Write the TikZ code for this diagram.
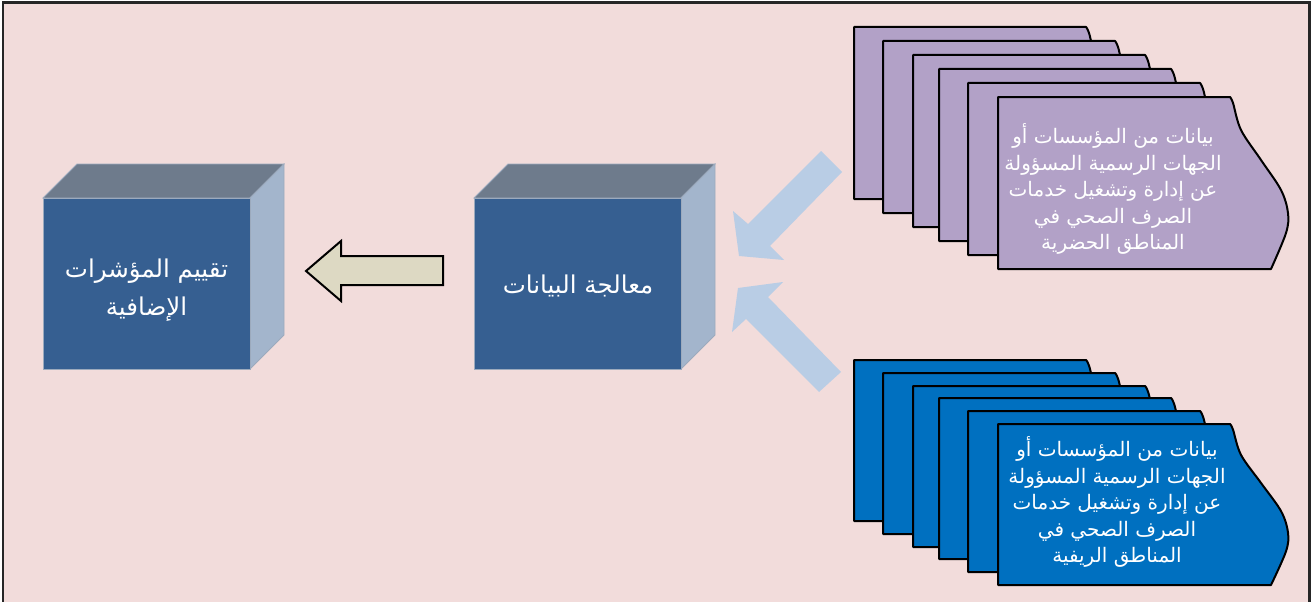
\documentclass[tikz,border=0pt]{standalone}
\usepackage{fontspec}
\newfontfamily\arabicfont[Script=Arabic]{DejaVu Sans}
\TeXXeTstate=1
\definecolor{bg}{HTML}{F2DCDB}
\definecolor{lilac}{HTML}{B2A1C7}
\definecolor{docblue}{HTML}{0070C0}
\definecolor{cubefront}{HTML}{365F91}
\definecolor{cubetop}{HTML}{6E7B8C}
\definecolor{cubeside}{HTML}{A3B5CC}
\definecolor{beige}{HTML}{DDD9C3}
\definecolor{lightarrow}{HTML}{B9CDE5}
\tikzset{
  pagebox/.style={draw=black, line width=2pt, line join=round},
  cubeface/.style={draw=cubeside!80!gray, line width=0.8pt},
  cubetext/.style={text=white, align=center, font=\arabicfont\fontsize{24.5}{38}\selectfont},
  doctext/.style={text=white, align=center, font=\arabicfont\fontsize{20}{26.5}\selectfont},
  hollowarrow/.style={draw=black, line width=2pt, fill=beige, line join=miter},
  flatarrow/.style={fill=lightarrow},
}
\begin{document}
\begin{tikzpicture}[x=1pt,y=-1pt]
\useasboundingbox (0,0) rectangle (1312,602);
\clip (0,0) rectangle (1312,602);
\fill[white] (0,0) rectangle (1312,602);
\draw[fill=bg, line width=2.2pt, draw=black!85] (3,2.5) rectangle (1309.5,620);

% cubes
\foreach \cx in {43,474}{
  \fill[cubetop, cubeface] (\cx,198) -- (\cx+34,164) -- (\cx+241,164) -- (\cx+207,198) -- cycle;
  \fill[cubeside, cubeface] (\cx+207,198) -- (\cx+241,164) -- (\cx+241,335) -- (\cx+207,369) -- cycle;
  \fill[cubefront, cubeface] (\cx,198) rectangle (\cx+207,369);
}
\node[cubetext] (evalbox) at (146.5,290) {\beginR تقييم المؤشرات\endR\\\beginR الإضافية\endR};
\node[cubetext] (procbox) at (578,286) {\beginR معالجة البيانات\endR};

% hollow arrow
\draw[hollowarrow] (306,271) -- (341,241) -- (341,256) -- (443,256) -- (443,285) -- (341,285) -- (341,301) -- cycle;

% light arrows
\fill[flatarrow] (821,151) -- (842,172) -- (770,246) -- (784,260) -- (739,256) -- (733,211) -- (748,224) -- cycle;
\fill[flatarrow] (841,372) -- (819,392) -- (746,319) -- (732,332) -- (738,288) -- (783,282) -- (768,297) -- cycle;

% purple document stack
\foreach \px/\py in {854/27,883/41,913/55,939/69,968/83,998/97}{
  \begin{scope}[shift={(\px,\py)}]
    \draw[pagebox, fill=lilac] (0,0) -- plot[smooth, tension=0.55] coordinates {(232,0) (235,6) (243,33) (263,63) (283,93) (290,116) (288,136) (273,172)} -- (0,172) -- cycle;
  \end{scope}
}
% blue document stack
\foreach \px/\py in {854/360,883/373,913/386,939/398,968/411,998/424}{
  \begin{scope}[shift={(\px,\py)}, yscale=161/172]
    \draw[pagebox, fill=docblue] (0,0) -- plot[smooth, tension=0.55] coordinates {(232,0) (235,6) (243,33) (263,63) (283,93) (290,116) (288,136) (273,172)} -- (0,172) -- cycle;
  \end{scope}
}

\node[doctext] (urban) at (1113,189) {\beginR بيانات من المؤسسات أو\endR\\\beginR الجهات الرسمية المسؤولة\endR\\\beginR عن إدارة وتشغيل خدمات\endR\\\beginR الصرف الصحي في\endR\\\beginR المناطق الحضرية\endR};
\node[doctext] (rural) at (1117,502) {\beginR بيانات من المؤسسات أو\endR\\\beginR الجهات الرسمية المسؤولة\endR\\\beginR عن إدارة وتشغيل خدمات\endR\\\beginR الصرف الصحي في\endR\\\beginR المناطق الريفية\endR};
\end{tikzpicture}
\end{document}
